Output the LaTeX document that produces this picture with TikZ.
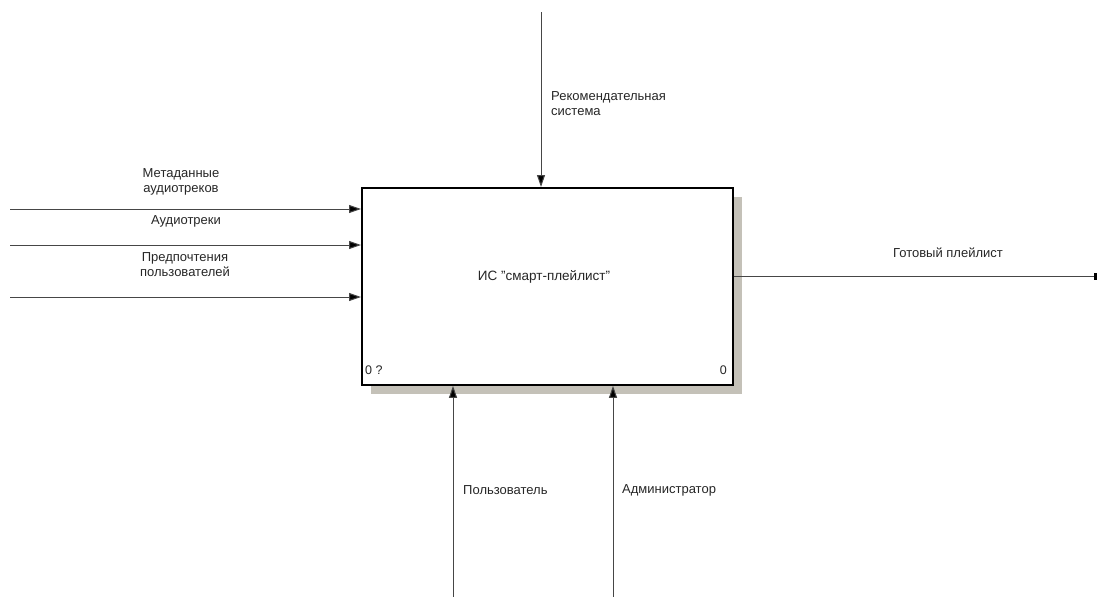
\documentclass[tikz,border=0pt]{standalone}
\usepackage{fontspec}
\setmainfont{Liberation Sans}
\usetikzlibrary{arrows.meta}
\definecolor{shadowgrey}{RGB}{196,193,184}
\definecolor{linegrey}{RGB}{70,70,70}
\begin{document}
\begin{tikzpicture}[x=1pt,y=-1pt,
  conn/.style={draw=linegrey,line width=1pt,-{Triangle[length=12pt,width=8pt,fill=black]}},
  plainconn/.style={draw=linegrey,line width=1pt},
  lbl/.style={font=\fontsize{13}{15}\selectfont,text=black!85,inner sep=0pt,align=center},
  lbll/.style={font=\fontsize{13}{15}\selectfont,text=black!85,inner sep=0pt,align=left,anchor=west},
  funcbox/.style={draw=black,line width=1.8pt,fill=white,minimum width=371pt,minimum height=197pt,inner sep=0pt,anchor=north west},
  shadowbox/.style={fill=shadowgrey,draw=none,minimum width=371pt,minimum height=197pt,inner sep=0pt,anchor=north west}
]
\useasboundingbox (0,0) rectangle (1098,597);
% shadow + box
\node[shadowbox] (sh) at (371,197) {};
\node[funcbox] (box) at (361,187) {};
\node[font=\fontsize{13.5}{16}\selectfont,text=black!85] (title) at (544,277) {ИС {\char34}смарт-плейлист{\char34}};
\node[font=\fontsize{12.5}{15}\selectfont,anchor=south west,inner sep=0pt,text=black!85] (nl) at (365,375) {0 ?};
\node[font=\fontsize{12.5}{15}\selectfont,anchor=south east,inner sep=0pt,text=black!85] (nr) at (727,375) {0};
% inputs
\coordinate (i1) at (10,209);
\coordinate (i2) at (10,245);
\coordinate (i3) at (10,297);
\draw[conn] (i1) -- (box.west |- i1);
\draw[conn] (i2) -- (box.west |- i2);
\draw[conn] (i3) -- (box.west |- i3);
\node[lbl] (l1) at (181,182) {Метаданные\\аудиотреков};
\node[lbl] (l2) at (186,221) {Аудиотреки};
\node[lbl] (l3) at (185,265) {Предпочтения\\пользователей};
% control
\coordinate (c1) at (541,12);
\draw[conn] (c1) -- (box.north -| c1);
\node[lbll] (lc) at (551,104) {Рекомендательная\\система};
% output
\coordinate (o1) at (1096,276);
\draw[plainconn] (box.east |- o1) -- (o1);
\node[fill=black,minimum width=2.5pt,minimum height=7pt,inner sep=0pt] (otick) at (1095.5,276) {};
\node[lbl] (lo) at (948,253) {Готовый плейлист};
% mechanisms
\coordinate (m1) at (453,597);
\coordinate (m2) at (613,597);
\draw[conn] (m1) -- (box.south -| m1);
\draw[conn] (m2) -- (box.south -| m2);
\node[lbll] (lm1) at (463,490) {Пользователь};
\node[lbll] (lm2) at (622,490) {Администратор};
\end{tikzpicture}
\end{document}
